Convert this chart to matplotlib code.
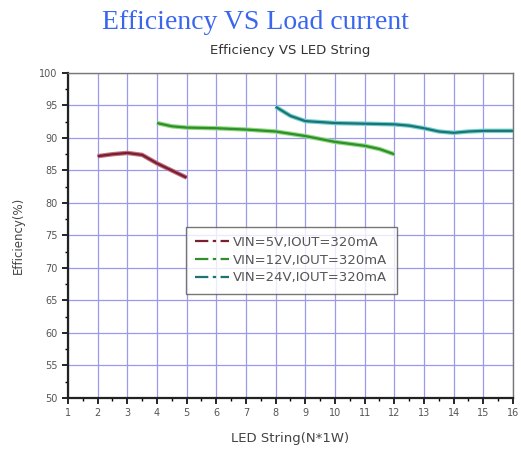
import matplotlib.pyplot as plt
from matplotlib.lines import Line2D

# values
x_5v = [2, 2.5, 3, 3.5, 4, 4.5, 5]
eff_5v = [87.2, 87.5, 87.7, 87.4, 86.1, 85.0, 83.9]

x_12v = [4, 4.5, 5, 6, 7, 8, 9, 10, 11, 11.5, 12]
eff_12v = [92.3, 91.8, 91.6, 91.5, 91.3, 91.0, 90.3, 89.4, 88.8, 88.3, 87.5]

x_24v = [8, 8.5, 9, 10, 11, 12, 12.5, 13, 13.5, 14, 14.5, 15, 16]
eff_24v = [94.8, 93.4, 92.6, 92.3, 92.2, 92.1, 91.9, 91.5, 91.0, 90.8, 91.0, 91.1, 91.1]

labels = ["VIN=5V,IOUT=320mA", "VIN=12V,IOUT=320mA", "VIN=24V,IOUT=320mA"]
colors = ["#7a1f2e", "#2f8f2a", "#1d7373"]
glow = ["#c07080", "#8fd880", "#70d0d0"]

fig = plt.figure(figsize=(5.21, 4.5), dpi=100)
ax = fig.add_axes([0.1305, 0.1156, 0.8541, 0.7222])

for xs, ys, c, g in zip([x_5v, x_12v, x_24v], [eff_5v, eff_12v, eff_24v], colors, glow):
    ax.plot(xs, ys, color=g, lw=3.2, solid_capstyle="butt", zorder=3)
    ax.plot(xs, ys, color=c, lw=1.6, solid_capstyle="butt", zorder=4)

ax.set_xlim(1, 16)
ax.set_ylim(50, 100)
ax.set_xticks(range(1, 17))
ax.set_yticks(range(50, 101, 5))
ax.set_xticks([i + 0.5 for i in range(1, 16)], minor=True)
ax.set_yticks([i + 2.5 for i in range(50, 100, 5)], minor=True)
ax.grid(True, which="major", color="#9c98ea", lw=0.9)
ax.set_axisbelow(True)

ax.tick_params(which="major", direction="out", length=4, width=1.2, labelsize=7, labelcolor="#555555")
ax.tick_params(which="minor", direction="out", length=2.5, width=1)
for s in ["left", "bottom"]:
    ax.spines[s].set_linewidth(1.6)
    ax.spines[s].set_color("#222222")
for s in ["top", "right"]:
    ax.spines[s].set_linewidth(1)
    ax.spines[s].set_color("#777777")

ax.set_xlabel("LED String(N*1W)", fontsize=9.5, color="#444444", labelpad=10)
ax.set_ylabel("Efficiency(%)", fontsize=8.5, color="#444444", labelpad=10)

handles = [Line2D([0], [0], color=c, lw=1.6, ls=(0, (6, 2, 1.5, 2))) for c in colors]
leg = ax.legend(handles, labels, loc="upper left", bbox_to_anchor=(0.25, 0.547),
                fontsize=9.5, frameon=True, fancybox=False, edgecolor="#555555",
                handlelength=2.6, handletextpad=0.3, borderpad=0.7, labelspacing=0.35)
leg.get_frame().set_linewidth(1.0)
for t in leg.get_texts():
    t.set_color("#555555")

fig.text(0.49, 0.95, "Efficiency VS Load current", fontsize=20, family="Liberation Serif",
         color="#3a66ee", ha="center", va="center")
fig.text(0.557, 0.888, "Efficiency VS LED String", fontsize=9.5, color="#333333",
         ha="center", va="center")

fig.savefig("out.png", dpi=100)
